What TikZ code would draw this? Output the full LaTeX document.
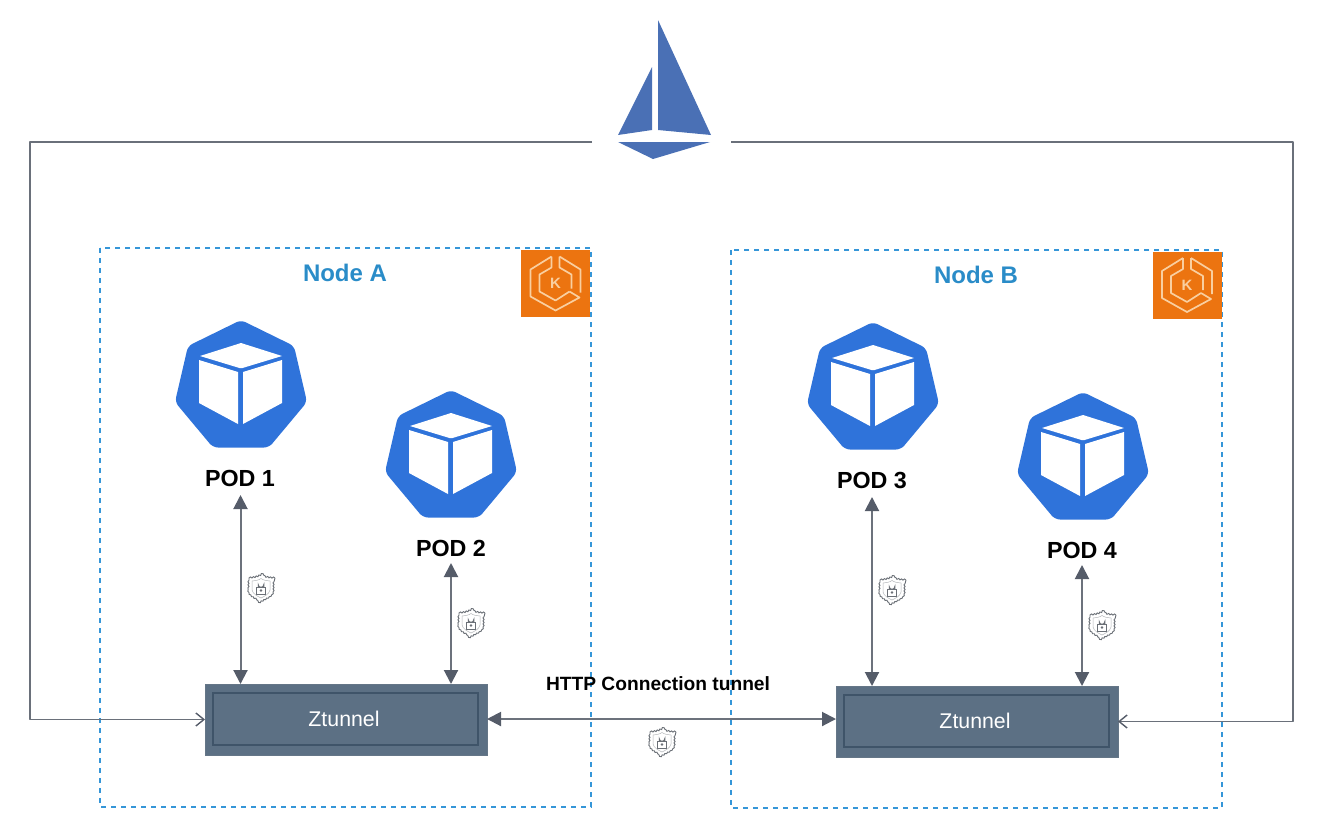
\documentclass[tikz,border=0pt]{standalone}
\usepackage{fontspec}
\setmainfont{Liberation Sans}
\usetikzlibrary{arrows.meta,decorations.pathmorphing}
\definecolor{lineC}{HTML}{6C727C}
\definecolor{tipC}{HTML}{555C69}
\definecolor{frameC}{HTML}{6A707A}
\definecolor{dashC}{HTML}{3596D8}
\definecolor{titleC}{HTML}{2A8CC8}
\definecolor{podC}{HTML}{2F73DA}
\definecolor{sailC}{HTML}{4A70B5}
\definecolor{eksC}{HTML}{EC7410}
\definecolor{eksL}{HTML}{F9CFA0}
\definecolor{ztC}{HTML}{5C7084}
\definecolor{ztD}{HTML}{3F5469}
\definecolor{shC}{HTML}{6A6F76}
\tikzset{
  x=1pt,y=-1pt,
  nodebox/.style={draw=dashC,line width=1.5pt,dash pattern=on 5pt off 5pt},
  nodetitle/.style={text=titleC,font=\fontsize{24}{28}\selectfont\bfseries,inner sep=0pt},
  podlabel/.style={text=black,font=\fontsize{23.3}{27}\selectfont\bfseries,inner sep=0pt},
  ztbox/.style={draw=ztD!80,line width=.8pt,fill=ztC,minimum width=282pt,minimum height=71pt,inner sep=0pt,outer sep=0pt},
  ztinner/.style={draw=ztD,line width=2.5pt},
  ztlabel/.style={inner sep=0pt,text=white,font=\fontsize{21.3}{25}\selectfont},
  biarrow/.style={draw=lineC,line width=2pt,{Triangle[length=14pt,width=14pt,color=tipC]}-{Triangle[length=14pt,width=14pt,color=tipC]}},
  frameopen/.style={draw=frameC,line width=1.8pt,line join=round,-{Straight Barb[length=8pt,width=13pt,line width=1.4pt,color=tipC]}},
  podicon/.pic={
    \fill[podC,rounded corners=5pt] (0,-1) -- (53,25) -- (66,81) -- (28,126.5) -- (-28,126.5) -- (-66,81) -- (-53,25) -- cycle;
    \fill[white] (0,22) -- (41,35) -- (1.5,47) -- (-1.5,47) -- (-41,35) -- cycle;
    \fill[white] (-42,39) -- (-3,51) -- (-3,103) -- (-42,82) -- cycle;
    \fill[white] (2,51) -- (41,39) -- (41,82) -- (2,103) -- cycle;
  },
  eksicon/.pic={
    \fill[eksC] (-34.5,-33.5) rectangle (34.5,33.5);
    \begin{scope}[draw=eksL,line width=1.7pt,line join=round]
      \draw (-4,-27) -- (-25,-14) -- (-25,13) -- (0,27) -- (24,14) -- (14,8);
      \draw (-4,-27) -- (-4,-16) -- (-16,-9) -- (-16,8) -- (0,17) -- (14,8);
      \draw (4,-27) -- (25,-14) -- (25,9);
      \draw (4,-27) -- (4,-16) -- (16,-9) -- (16,5);
    \end{scope}
    \node[inner sep=0pt,text=eksL,font=\fontsize{15}{16}\selectfont\bfseries] (#1) at (0,0) {K};
  },
  shieldicon/.pic={
    \draw[draw=shC,line width=.9pt,fill=white,decorate,decoration={bumps,segment length=6pt,amplitude=1.1pt}]
      (-12,-10) .. controls (-8,-10) and (-3,-11) .. (0,-13) .. controls (3,-11) and (8,-10) .. (12,-10)
      -- (12,3) .. controls (11,8) and (5,10) .. (0,13) .. controls (-5,10) and (-11,8) .. (-12,3) -- cycle;
    \draw[draw=shC!50,line width=.5pt] (-9,-7) .. controls (-6,-7) and (-2,-8) .. (0,-9.5) .. controls (2,-8) and (6,-7) .. (9,-7)
      -- (9,2) .. controls (8,6) and (4,8) .. (0,10) .. controls (-4,8) and (-8,6) .. (-9,2) -- cycle;
    \draw[draw=shC,line width=.9pt,fill=white] (-4.5,-1) rectangle (4.5,6);
    \draw[draw=shC,line width=.9pt] (-2.8,-1) -- (-2.8,-3.5) arc[start angle=180,end angle=0,radius=2.8] -- (2.8,-1);
    \fill[shC] (0,2.5) circle[radius=1.4];
  },
}
\begin{document}
\begin{tikzpicture}
\useasboundingbox (0,0) rectangle (1319,839);

% Istio logo
\fill[sailC] (658,20) -- (711,135) -- (658,130) -- cycle;
\fill[sailC] (652,67) -- (652,130) -- (618,135) -- cycle;
\fill[sailC] (618,142) -- (710,142) -- (653,159) -- cycle;

% Node frames
\draw[nodebox] (100,248) rectangle (591,807);
\draw[nodebox] (731,250) rectangle (1222,808);
\pic at (555.5,283.5) {eksicon=eksA};
\pic at (1187,285) {eksicon=eksB};
\node[nodetitle] (titleA) at (345,273) {Node A};
\node[nodetitle] (titleB) at (976,275) {Node B};

% Pods
\pic at (241,321) {podicon};
\pic at (451,391) {podicon};
\pic at (873,323) {podicon};
\pic at (1083,393) {podicon};
\node[podlabel] (pod1) at (240,478) {POD 1};
\node[podlabel] (pod2) at (451,548) {POD 2};
\node[podlabel] (pod3) at (872,480) {POD 3};
\node[podlabel] (pod4) at (1082,550) {POD 4};

% Ztunnels
\node[ztbox] (ztA) at (346,719.5) {};
\draw[ztinner] (213,693) rectangle (478,745);
\node[ztlabel] (ztAlabel) at (344,719) {Ztunnel};
\node[ztbox] (ztB) at (977,721.5) {};
\draw[ztinner] (844,695) rectangle (1109,747);
\node[ztlabel] (ztBlabel) at (975,721) {Ztunnel};

% Vertical connectors
\coordinate (c1) at (240.5,495);
\coordinate (c2) at (451,563);
\coordinate (c3) at (872,497);
\coordinate (c4) at (1082,565);
\draw[biarrow] (c1) -- (c1 |- ztA.north);
\draw[biarrow] (c2) -- (c2 |- ztA.north);
\draw[biarrow] (c3) -- (c3 |- ztB.north);
\draw[biarrow] (c4) -- (c4 |- ztB.north);

% Tunnel
\coordinate (tl) at (346,719);
\draw[biarrow] (ztA.east |- tl) -- (ztB.west |- tl);
\node[inner sep=0pt,text=black,font=\fontsize{19.2}{22}\selectfont\bfseries] (tunnel) at (658,684) {HTTP Connection tunnel};

% Control-plane lines
\coordinate (fl) at (592,142);
\coordinate (fr) at (731,142);
\coordinate (flc) at (30,142);
\coordinate (frc) at (1293,142);
\draw[frameopen] (fl) -- (flc) -- (flc |- ztA.west) -- (ztA.west);
\draw[frameopen] (fr) -- (frc) -- (frc |- ztB.east) -- (ztB.east);

% Shields
\pic at (261,588) {shieldicon};
\pic at (471,623) {shieldicon};
\pic at (662,742) {shieldicon};
\pic at (892,590) {shieldicon};
\pic at (1102,625) {shieldicon};
\end{tikzpicture}
\end{document}
